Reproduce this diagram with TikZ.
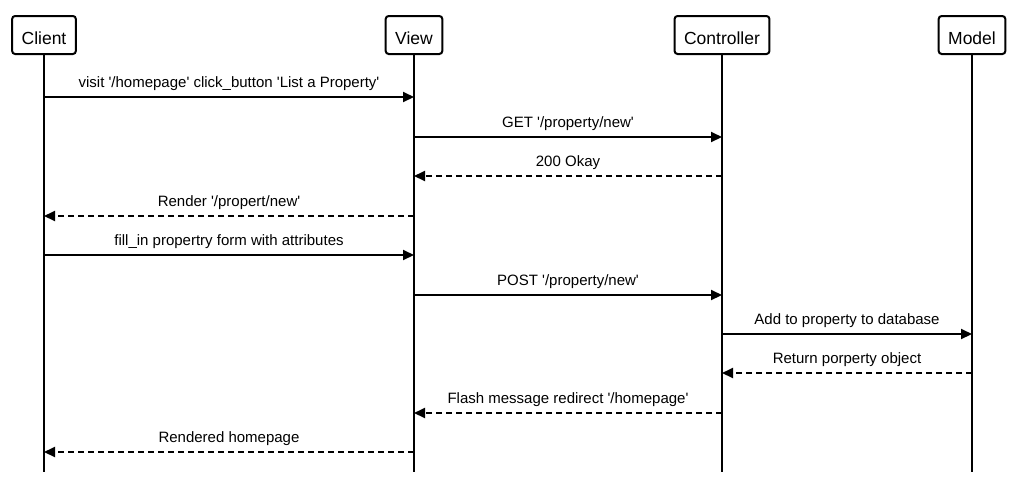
\documentclass[tikz,border=0pt]{standalone}
\usepackage{fontspec}
\setmainfont{Liberation Sans}
\usetikzlibrary{calc,arrows,arrows.meta}

\newcommand{\sq}{\textquotesingle}

\begin{document}
\begin{tikzpicture}[x=1pt, y=-1pt,
    every node/.style={font=\fontsize{15}{18}\selectfont},
    head/.style={draw, line width=2pt, rounded corners=3pt, minimum height=38pt,
        inner xsep=9.5pt, inner ysep=0pt, text height=19pt, text depth=0pt,
        font=\fontsize{17.5}{20}\selectfont},
    life/.style={line width=2pt},
    call/.style={line width=2pt, -{Triangle[length=11pt,width=10pt]}},
    reply/.style={call, dash pattern=on 6pt off 4pt},
    lbl/.style={midway, anchor=base, yshift=9.5pt, inner sep=0pt} ]

    \useasboundingbox (0,0) rectangle (1016,496);

    % Draw participants.
    \node[head] (client) at (44,35) {Client};
    \node[head] (view) at (414,35) {View};
    \node[head] (ctrl) at (722,35) {Controller};
    \node[head] (model) at (972,35) {Model};

    % lifelines
    \foreach \n in {client,view,ctrl,model}
    {
        \draw[life] (\n.south) -- (\n.south |- 0,472);
    }

    % messages
    \draw[call] (client |- 0,97) -- node[lbl]{visit \sq/homepage\sq{} click\_button \sq List a Property\sq} (view |- 0,97);
    \draw[call] (view |- 0,137) -- node[lbl]{GET \sq/property/new\sq} (ctrl |- 0,137);
    \draw[reply] (ctrl |- 0,176) -- node[lbl]{200 Okay} (view |- 0,176);
    \draw[reply] (view |- 0,216) -- node[lbl]{Render \sq/propert/new\sq} (client |- 0,216);
    \draw[call] (client |- 0,255) -- node[lbl]{fill\_in propertry form with attributes} (view |- 0,255);
    \draw[call] (view |- 0,295) -- node[lbl]{POST \sq/property/new\sq} (ctrl |- 0,295);
    \draw[call] (ctrl |- 0,334) -- node[lbl]{Add to property to database} (model |- 0,334);
    \draw[reply] (model |- 0,373) -- node[lbl]{Return porperty object} (ctrl |- 0,373);
    \draw[reply] (ctrl |- 0,413) -- node[lbl]{Flash message redirect \sq/homepage\sq} (view |- 0,413);
    \draw[reply] (view |- 0,452) -- node[lbl]{Rendered homepage} (client |- 0,452);

\end{tikzpicture}
\end{document}
